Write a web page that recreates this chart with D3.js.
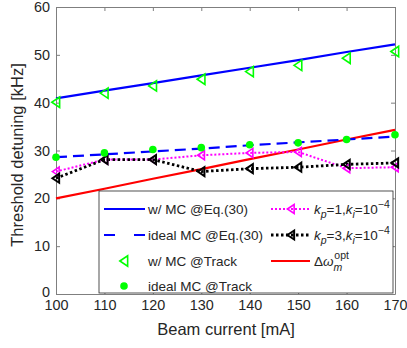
<!DOCTYPE html>
<html>
<head>
<meta charset="utf-8">
<script src="https://cdn.jsdelivr.net/npm/d3@7"></script>
<style>
  body { margin: 0; background: #fff; }
  text { font-family: "Liberation Sans", Arial, sans-serif; fill: #262626; }
</style>
</head>
<body>
<svg width="407" height="348"></svg>
<script>
// select the svg
const svg = d3.select("svg");

// data
const current = [100, 110, 120, 130, 140, 150, 160, 170];
const mcEq = [40.9, 42.5, 44.1, 45.7, 47.3, 48.9, 50.6, 52.2];
const idealEq = [28.6, 29.2, 29.8, 30.4, 31.1, 31.7, 32.3, 32.9];
const mcTrack = [40.1, 42.0, 43.5, 44.9, 46.5, 47.8, 49.3, 50.7];
const idealTrack = [28.6, 29.5, 30.2, 30.6, 31.2, 31.6, 32.3, 33.3];
const kp1 = [25.6, 28.1, 28.1, 29.0, 29.5, 29.7, 26.3, 26.5];
const kp3 = [24.2, 28.1, 28.1, 25.6, 26.2, 26.5, 27.1, 27.4];
const dwOpt = [20.0, 22.0, 24.1, 26.1, 28.2, 30.2, 32.3, 34.3];
const xTicks = [100, 110, 120, 130, 140, 150, 160, 170];
const yTicks = [0, 10, 20, 30, 40, 50, 60];

// scales
const x = d3.scaleLinear().domain([100, 170]).range([56, 395]);
const y = d3.scaleLinear().domain([0, 60]).range([294, 7]);

// axes (box with inward ticks like matlab)
const axisColor = "#7f7f7f";
const font = "Liberation Sans, Arial, sans-serif";
svg.append("g")
    .attr("transform", "translate(0,294)")
    .call(d3.axisBottom(x).tickValues(xTicks).tickSizeInner(-4).tickSizeOuter(0).tickPadding(6))
    .call(g => g.select(".domain").attr("stroke", axisColor))
    .call(g => g.selectAll(".tick line").attr("stroke", axisColor))
    .call(g => g.selectAll("text").attr("font-size", 14.4).attr("fill", "#262626").attr("font-family", font));
svg.append("g")
    .attr("transform", "translate(56,0)")
    .call(d3.axisLeft(y).tickValues(yTicks).tickSizeInner(-4).tickSizeOuter(0).tickPadding(6))
    .call(g => g.select(".domain").attr("stroke", axisColor))
    .call(g => g.selectAll(".tick line").attr("stroke", axisColor))
    .call(g => g.selectAll("text").attr("font-size", 14.4).attr("fill", "#262626").attr("font-family", font))
    .call(g => g.selectAll(".tick").filter(d => d === 0).select("text").attr("dy", "0.2em"));
svg.append("g")
    .attr("transform", "translate(0,7)")
    .call(d3.axisTop(x).tickValues(xTicks).tickSizeInner(-4).tickSizeOuter(0).tickFormat(""))
    .call(g => g.select(".domain").attr("stroke", axisColor))
    .call(g => g.selectAll(".tick line").attr("stroke", axisColor));
svg.append("g")
    .attr("transform", "translate(395,0)")
    .call(d3.axisRight(y).tickValues(yTicks).tickSizeInner(-4).tickSizeOuter(0).tickFormat(""))
    .call(g => g.select(".domain").attr("stroke", axisColor))
    .call(g => g.selectAll(".tick line").attr("stroke", axisColor));

// axis labels
svg.append("text")
    .attr("x", 226).attr("y", 335)
    .attr("text-anchor", "middle").attr("font-size", 16.5)
    .text("Beam current [mA]");
svg.append("text")
    .attr("transform", "translate(23,155) rotate(-90)")
    .attr("text-anchor", "middle").attr("font-size", 16.5)
    .text("Threshold detuning [kHz]");

// helpers
const line = d3.line().x((d, i) => x(current[i])).y(d => y(d));
function tri(s) {
    return "M" + (-s * 0.8) + ",0L" + (s * 0.7) + "," + (-s) + "L" + (s * 0.7) + "," + s + "Z";
}
const plot = svg.append("g");

// lines
plot.append("path").datum(dwOpt).attr("d", line)
    .attr("fill", "none").attr("stroke", "#ff0000").attr("stroke-width", 2.2);
plot.append("path").datum(mcEq).attr("d", line)
    .attr("fill", "none").attr("stroke", "#0000ff").attr("stroke-width", 2.2);
plot.append("path").datum(idealEq).attr("d", line)
    .attr("fill", "none").attr("stroke", "#0000ff").attr("stroke-width", 2.2)
    .attr("stroke-dasharray", "11,6");
plot.append("path").datum(kp1).attr("d", line)
    .attr("fill", "none").attr("stroke", "#ff00ff").attr("stroke-width", 2)
    .attr("stroke-dasharray", "2,2");
plot.append("path").datum(kp3).attr("d", line)
    .attr("fill", "none").attr("stroke", "#000000").attr("stroke-width", 2.8)
    .attr("stroke-dasharray", "2.5,2.5");

// markers
plot.selectAll(".mk1").data(kp1).enter().append("path")
    .attr("transform", (d, i) => "translate(" + x(current[i]) + "," + y(d) + ")")
    .attr("d", tri(4.5)).attr("fill", "none").attr("stroke", "#ff00ff").attr("stroke-width", 1.6);
plot.selectAll(".mk3").data(kp3).enter().append("path")
    .attr("transform", (d, i) => "translate(" + x(current[i]) + "," + y(d) + ")")
    .attr("d", tri(4.5)).attr("fill", "none").attr("stroke", "#000000").attr("stroke-width", 2);
plot.selectAll(".mtr").data(mcTrack).enter().append("path")
    .attr("transform", (d, i) => "translate(" + x(current[i]) + "," + y(d) + ")")
    .attr("d", tri(5.2)).attr("fill", "none").attr("stroke", "#00ff00").attr("stroke-width", 1.6);
plot.selectAll(".itr").data(idealTrack).enter().append("circle")
    .attr("cx", (d, i) => x(current[i])).attr("cy", d => y(d))
    .attr("r", 3.8).attr("fill", "#00ff00");

// legend
const lg = svg.append("g");
lg.append("rect")
    .attr("x", 99).attr("y", 191).attr("width", 294).attr("height", 102)
    .attr("fill", "#fff").attr("stroke", "#262626").attr("stroke-width", 0.8);
const rowY = [209, 235, 261, 286];

// column 1
lg.append("line").attr("x1", 104).attr("x2", 145).attr("y1", rowY[0]).attr("y2", rowY[0])
    .attr("stroke", "#0000ff").attr("stroke-width", 2.2);
lg.append("line").attr("x1", 104).attr("x2", 145).attr("y1", rowY[1]).attr("y2", rowY[1])
    .attr("stroke", "#0000ff").attr("stroke-width", 2.2).attr("stroke-dasharray", "11,19");
lg.append("path").attr("transform", "translate(124," + rowY[2] + ")")
    .attr("d", tri(5.2)).attr("fill", "none").attr("stroke", "#00ff00").attr("stroke-width", 1.6);
lg.append("circle").attr("cx", 124).attr("cy", rowY[3]).attr("r", 3.8).attr("fill", "#00ff00");
const col1 = ["w/ MC @Eq.(30)", "ideal MC @Eq.(30)", "w/ MC @Track", "ideal MC @Track"];
col1.forEach((t, i) => {
    lg.append("text").attr("x", 148).attr("y", rowY[i] + 5).attr("font-size", 13.5).text(t);
});

// column 2
lg.append("line").attr("x1", 271).attr("x2", 310).attr("y1", rowY[0]).attr("y2", rowY[0])
    .attr("stroke", "#ff00ff").attr("stroke-width", 2).attr("stroke-dasharray", "2,2");
lg.append("path").attr("transform", "translate(291," + rowY[0] + ")")
    .attr("d", tri(4.5)).attr("fill", "none").attr("stroke", "#ff00ff").attr("stroke-width", 1.6);
lg.append("line").attr("x1", 271).attr("x2", 310).attr("y1", rowY[1]).attr("y2", rowY[1])
    .attr("stroke", "#000000").attr("stroke-width", 2.8).attr("stroke-dasharray", "2.5,2.5");
lg.append("path").attr("transform", "translate(291," + rowY[1] + ")")
    .attr("d", tri(4.5)).attr("fill", "none").attr("stroke", "#000000").attr("stroke-width", 2);
lg.append("line").attr("x1", 271).attr("x2", 310).attr("y1", rowY[2]).attr("y2", rowY[2])
    .attr("stroke", "#ff0000").attr("stroke-width", 2.2);

function kLabel(row, kp) {
    const t = lg.append("text").attr("x", 314).attr("y", rowY[row] + 5).attr("font-size", 13.5);
    t.append("tspan").attr("font-style", "italic").text("k");
    t.append("tspan").attr("font-style", "italic").attr("font-size", 10.5).attr("dy", 4).text("p");
    t.append("tspan").attr("dy", -4).text("=" + kp + ",");
    t.append("tspan").attr("font-style", "italic").text("k");
    t.append("tspan").attr("font-style", "italic").attr("font-size", 10.5).attr("dy", 4).text("i");
    t.append("tspan").attr("dy", -4).text("=10");
    t.append("tspan").attr("font-size", 10.5).attr("dy", -6).text("\u22124");
}
kLabel(0, 1);
kLabel(1, 3);
const dw = lg.append("text").attr("x", 314).attr("y", rowY[2] + 5).attr("font-size", 13.5);
dw.append("tspan").text("\u0394");
dw.append("tspan").attr("font-style", "italic").text("\u03c9");
dw.append("tspan").attr("font-style", "italic").attr("font-size", 10.5).attr("dy", 5).text("m");
dw.append("tspan").attr("font-size", 10.5).attr("dx", -8).attr("dy", -12).text("opt");
</script>
</body>
</html>
